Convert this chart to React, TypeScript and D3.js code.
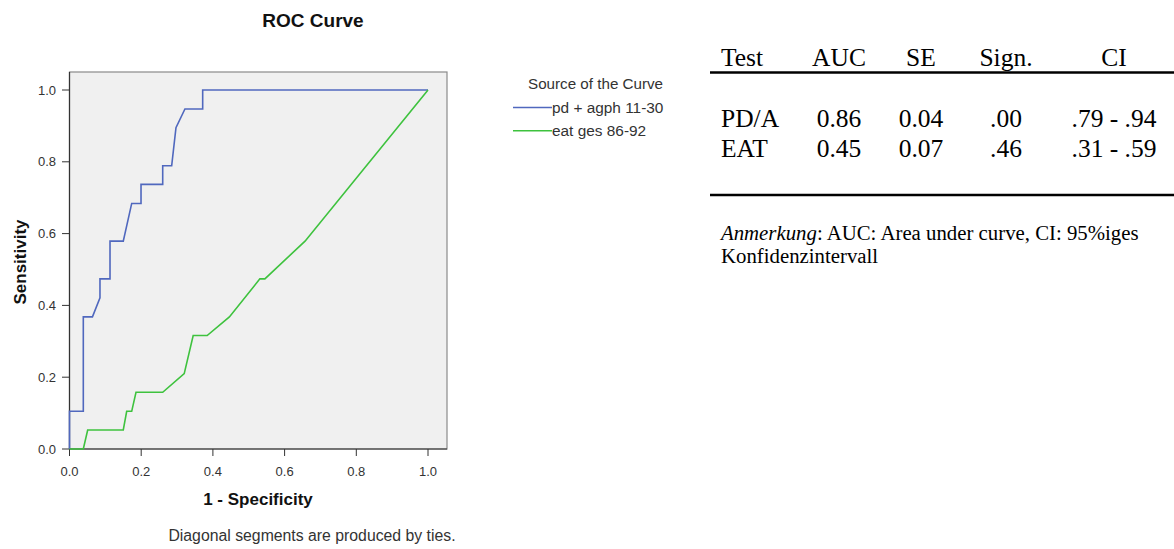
import React from "react";
import * as d3 from "d3";

const xTicks = [0, 0.2, 0.4, 0.6, 0.8, 1.0];
const yTicks = [0, 0.2, 0.4, 0.6, 0.8, 1.0];

const seriesNames = ["pd + agph 11-30", "eat ges 86-92"];
const seriesColors = ["#5068be", "#3ec23e"];

const pdFpr = [0, 0, 0.0385, 0.0385, 0.064, 0.085, 0.085, 0.113, 0.113, 0.15, 0.1735, 0.1995, 0.1995, 0.26, 0.26, 0.285, 0.297, 0.322, 0.3715, 0.3715, 1];
const pdTpr = [0, 0.105, 0.105, 0.368, 0.368, 0.421, 0.474, 0.474, 0.579, 0.579, 0.684, 0.684, 0.737, 0.737, 0.789, 0.789, 0.895, 0.947, 0.947, 1, 1];

const eatFpr = [0, 0.0385, 0.0507, 0.15, 0.1595, 0.1735, 0.1855, 0.26, 0.32, 0.345, 0.384, 0.446, 0.531, 0.545, 0.657, 1];
const eatTpr = [0, 0, 0.053, 0.053, 0.105, 0.105, 0.158, 0.158, 0.21, 0.316, 0.316, 0.368, 0.474, 0.474, 0.579, 1];

const tableHeaders = ["Test", "AUC", "SE", "Sign.", "CI"];
const tableTests = ["PD/A", "EAT"];
const tableAUC = ["0.86", "0.45"];
const tableSE = ["0.04", "0.07"];
const tableSign = [".00", ".46"];
const tableCI = [".79 - .94", ".31 - .59"];

export default function App() {
  const x = d3.scaleLinear().domain([0, 1]).range([69.5, 428]);
  const y = d3.scaleLinear().domain([0, 1]).range([449, 90]);
  const line = d3
    .line<[number, number]>()
    .x((d) => x(d[0]))
    .y((d) => y(d[1]));
  const series = [
    pdFpr.map((v, i) => [v, pdTpr[i]] as [number, number]),
    eatFpr.map((v, i) => [v, eatTpr[i]] as [number, number]),
  ];
  const sans = "'Liberation Sans', Arial, sans-serif";
  const serif = "'Liberation Serif', 'Times New Roman', serif";
  const colX = [721, 839, 921, 1006, 1114];
  const colAnchor = ["start", "middle", "middle", "middle", "middle"];
  const rowCols = [tableTests, tableAUC, tableSE, tableSign, tableCI];
  return (
    <svg width={1174} height={549} style={{ position: "absolute", left: 0, top: 0, background: "#fff" }}>
      <text x={313} y={27} textAnchor="middle" fontFamily={sans} fontWeight="bold" fontSize={19} fill="#111">
        ROC Curve
      </text>
      <rect x={69.5} y={72} width={377.5} height={377} fill="#f0f0f0" stroke="#8a8a8a" strokeWidth={1.2} />
      <line x1={69.5} x2={69.5} y1={72} y2={449} stroke="#333" strokeWidth={1.2} />
      <line x1={69.5} x2={447} y1={449} y2={449} stroke="#333" strokeWidth={1.2} />
      {yTicks.map((t) => (
        <g key={"y" + t}>
          <line x1={62} x2={69.5} y1={y(t)} y2={y(t)} stroke="#333" />
          <text x={56} y={y(t) + 4.5} textAnchor="end" fontFamily={sans} fontSize={13} fill="#333">
            {t.toFixed(1)}
          </text>
        </g>
      ))}
      {xTicks.map((t) => (
        <g key={"x" + t}>
          <line x1={x(t)} x2={x(t)} y1={449} y2={456} stroke="#333" />
          <text x={x(t)} y={476} textAnchor="middle" fontFamily={sans} fontSize={13} fill="#333">
            {t.toFixed(1)}
          </text>
        </g>
      ))}
      {series.map((s, i) => (
        <path key={i} d={line(s) || ""} fill="none" stroke={seriesColors[i]} strokeWidth={1.6} />
      ))}
      <text x={258} y={505} textAnchor="middle" fontFamily={sans} fontWeight="bold" fontSize={17} fill="#111">
        1 - Specificity
      </text>
      <text transform="translate(26,262) rotate(-90)" textAnchor="middle" fontFamily={sans} fontWeight="bold" fontSize={17} fill="#111">
        Sensitivity
      </text>
      <text x={312} y={541} textAnchor="middle" fontFamily={sans} fontSize={15.8} fill="#333">
        Diagonal segments are produced by ties.
      </text>
      <text x={528} y={89} fontFamily={sans} fontSize={15.2} fill="#333">
        Source of the Curve
      </text>
      {seriesNames.map((n, i) => (
        <g key={n}>
          <line x1={513} x2={552} y1={107.5 + i * 23.3} y2={107.5 + i * 23.3} stroke={seriesColors[i]} strokeWidth={1.6} />
          <text x={552} y={113 + i * 23.3} fontFamily={sans} fontSize={15.4} fill="#333">
            {n}
          </text>
        </g>
      ))}
      {tableHeaders.map((h, i) => (
        <text key={h} x={colX[i]} y={66} textAnchor={colAnchor[i]} fontFamily={serif} fontSize={25.5} fill="#000">
          {h}
        </text>
      ))}
      <line x1={710} x2={1174} y1={72.5} y2={72.5} stroke="#000" strokeWidth={2.5} />
      {tableTests.map((_, r) =>
        rowCols.map((col, c) => (
          <text key={r + "-" + c} x={colX[c]} y={127 + r * 30} textAnchor={colAnchor[c]} fontFamily={serif} fontSize={25.5} fill="#000">
            {col[r]}
          </text>
        ))
      )}
      <line x1={710} x2={1174} y1={195} y2={195} stroke="#000" strokeWidth={2.5} />
      <text x={721} y={240} fontFamily={serif} fontSize={20.8} fill="#000">
        <tspan fontStyle="italic">Anmerkung</tspan>: AUC: Area under curve, CI: 95%iges
      </text>
      <text x={721} y={263} fontFamily={serif} fontSize={20.8} fill="#000">
        Konfidenzintervall
      </text>
    </svg>
  );
}
